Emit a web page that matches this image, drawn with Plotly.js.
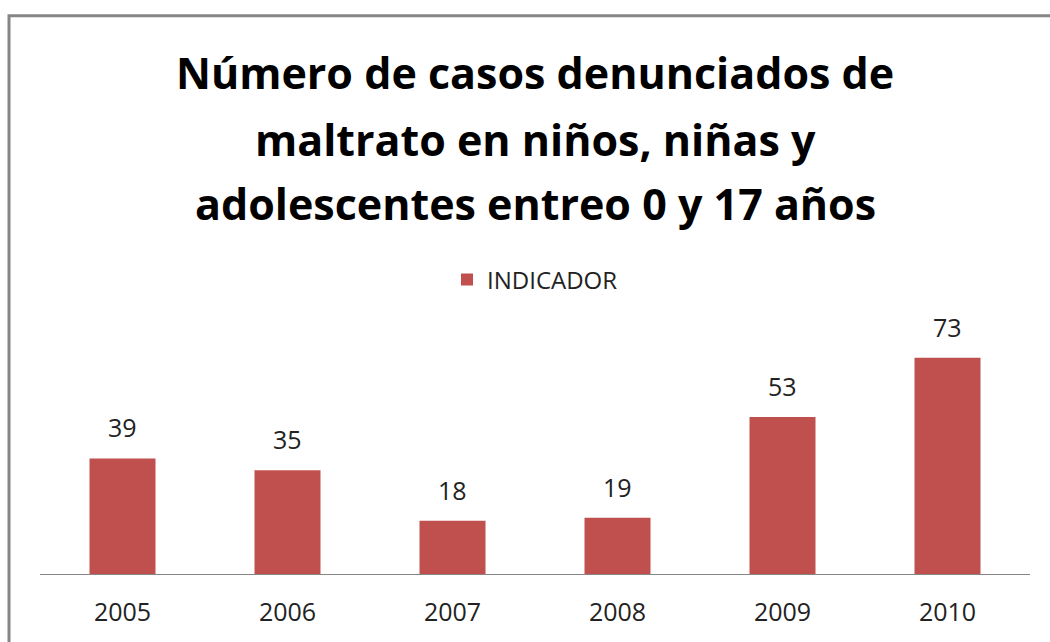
<!DOCTYPE html>
<html>
<head>
<meta charset="utf-8">
<script src="https://cdn.plot.ly/plotly-3.0.1.min.js"></script>
<style>
  body { margin: 0; background: #fff; }
  #graph { width: 1050px; height: 642px; }
</style>
</head>
<body>
<div id="graph"></div>
<script>
const years = ['2005', '2006', '2007', '2008', '2009', '2010']
const casos = [39, 35, 18, 19, 53, 73]
const titleLines = [
    'Número de casos denunciados de',
    'maltrato en niños, niñas y',
    'adolescentes entreo 0 y 17 años'
]
const titleY = [2.114, 1.835, 1.565]

const fuente = '"Open Sans", Lato, sans-serif'

const graphData = [
    {
        x: years,
        y: casos,
        type: 'bar',
        name: 'INDICADOR',
        marker: { color: '#C0504D' },
        hoverinfo: 'x+y'
    }
]

// etiquetas de valor sobre cada barra (x = indice de la categoria)
const labels = years.map((yr, i) => ({
    x: i,
    y: casos[i],
    xref: 'x',
    yref: 'y',
    text: String(casos[i]),
    showarrow: false,
    yanchor: 'bottom',
    yshift: 12,
    font: { family: fuente, size: 25, color: '#222' }
}))

const titles = titleLines.map((t, i) => ({
    x: 0.5,
    y: titleY[i],
    xref: 'paper',
    yref: 'paper',
    text: '<b>' + t + '</b>',
    showarrow: false,
    xanchor: 'center',
    yanchor: 'middle',
    font: { family: fuente, size: 43, color: '#000' }
}))

const layout = {
    width: 1050,
    height: 642,
    margin: { l: 40, r: 20, t: 337, b: 68 },
    paper_bgcolor: '#fff',
    plot_bgcolor: '#fff',
    bargap: 0.6,
    showlegend: true,
    legend: {
        orientation: 'h',
        x: 0.5,
        xanchor: 'center',
        y: 1.2405,
        yanchor: 'middle',
        font: { family: fuente, size: 24, color: '#222' }
    },
    xaxis: {
        type: 'category',
        range: [-0.5, 5.5],
        autorange: false,
        showline: true,
        linecolor: '#868686',
        linewidth: 1,
        ticks: '',
        ticklabelstandoff: 16,
        showgrid: false,
        zeroline: false,
        tickfont: { family: fuente, size: 25, color: '#222' }
    },
    yaxis: {
        range: [0, 80],
        autorange: false,
        visible: false,
        showgrid: false,
        zeroline: false
    },
    annotations: titles.concat(labels),
    shapes: [
        {
            type: 'rect',
            xref: 'paper',
            yref: 'paper',
            x0: -0.0313,
            x1: 1.06,
            y0: -0.5,
            y1: 2.355,
            line: { color: '#868686', width: 3 },
            fillcolor: 'rgba(0,0,0,0)',
            layer: 'below'
        }
    ]
};

Plotly.newPlot('graph', graphData, layout, { displayModeBar: false });
</script>
</body>
</html>
